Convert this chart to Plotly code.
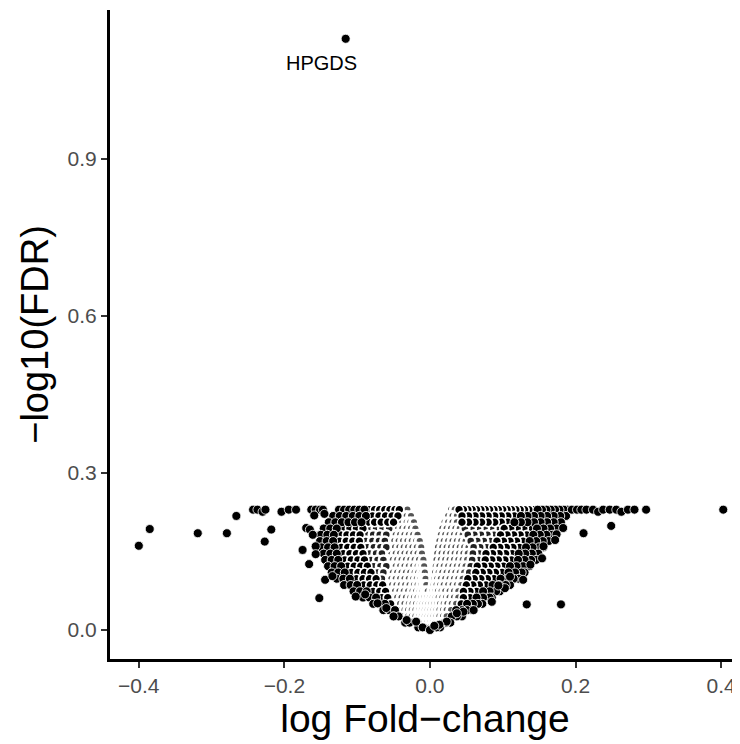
import plotly.graph_objects as go

# ---- data -------------------------------------------------------------
# -log10(FDR) levels (tied BH-adjusted values form horizontal bands)
fdr_levels = [0.230, 0.218, 0.206, 0.194, 0.182, 0.170, 0.158, 0.146, 0.134, 0.122,
              0.110, 0.098, 0.086, 0.074, 0.062, 0.050, 0.038, 0.026, 0.014, 0.005]

# outer (sparser, black looking) genes per level: log fold-change
edge_logfc_by_level = [
    [-0.125, -0.118, -0.111, -0.104, -0.097, -0.090, -0.083, -0.076, -0.069, -0.062, -0.055, -0.048, -0.042,
     0.040, 0.046, 0.052, 0.058, 0.064, 0.070, 0.076, 0.082, 0.088, 0.094, 0.100, 0.106, 0.112, 0.118, 0.124,
     0.130, 0.136, 0.142, 0.148, 0.154, 0.160, 0.166, 0.172, 0.178, 0.184, 0.189],
    [-0.133, -0.124, -0.115, -0.106, -0.097, -0.088, -0.079, -0.070, -0.061, -0.052, -0.044,
     0.044, 0.053, 0.062, 0.071, 0.080, 0.089, 0.098, 0.107, 0.116, 0.125, 0.134, 0.143, 0.152, 0.161, 0.170,
     0.179, 0.187],
    [-0.139, -0.130, -0.121, -0.112, -0.103, -0.094, -0.085, -0.076, -0.067, -0.058, -0.050,
     0.044, 0.053, 0.062, 0.071, 0.080, 0.089, 0.098, 0.107, 0.116, 0.125, 0.134, 0.143, 0.152, 0.161, 0.170,
     0.180],
    [-0.146, -0.137, -0.128, -0.119, -0.110, -0.101, -0.092, -0.083, -0.074, -0.065, -0.056,
     0.048, 0.057, 0.066, 0.075, 0.084, 0.093, 0.102, 0.111, 0.120, 0.129, 0.138, 0.147, 0.156, 0.165, 0.174],
    [-0.150, -0.141, -0.132, -0.123, -0.114, -0.105, -0.096, -0.087, -0.078, -0.069, -0.060,
     0.052, 0.061, 0.070, 0.079, 0.088, 0.097, 0.106, 0.115, 0.124, 0.133, 0.142, 0.151, 0.160, 0.168],
    [-0.151, -0.142, -0.133, -0.124, -0.115, -0.106, -0.097, -0.088, -0.079, -0.070, -0.062,
     0.056, 0.065, 0.074, 0.083, 0.092, 0.101, 0.110, 0.119, 0.128, 0.137, 0.146, 0.155, 0.163],
    [-0.149, -0.140, -0.131, -0.122, -0.113, -0.104, -0.095, -0.086, -0.077, -0.068, -0.060,
     0.060, 0.069, 0.078, 0.087, 0.096, 0.105, 0.114, 0.123, 0.132, 0.141, 0.150, 0.156],
    [-0.146, -0.137, -0.128, -0.119, -0.110, -0.101, -0.092, -0.083, -0.074, -0.066,
     0.059, 0.068, 0.077, 0.086, 0.095, 0.104, 0.113, 0.122, 0.131, 0.140, 0.149],
    [-0.144, -0.135, -0.126, -0.117, -0.108, -0.099, -0.090, -0.081, -0.072, -0.064,
     0.058, 0.067, 0.076, 0.085, 0.094, 0.103, 0.112, 0.121, 0.130, 0.139, 0.146],
    [-0.140, -0.131, -0.122, -0.113, -0.104, -0.095, -0.086, -0.077, -0.068, -0.060,
     0.056, 0.065, 0.074, 0.083, 0.092, 0.101, 0.110, 0.119, 0.128, 0.137],
    [-0.135, -0.126, -0.117, -0.108, -0.099, -0.090, -0.081, -0.072, -0.064,
     0.054, 0.063, 0.072, 0.081, 0.090, 0.099, 0.108, 0.117, 0.126, 0.130],
    [-0.128, -0.119, -0.110, -0.101, -0.092, -0.083, -0.074, -0.066,
     0.052, 0.061, 0.070, 0.079, 0.088, 0.097, 0.106, 0.115, 0.122],
    [-0.118, -0.109, -0.100, -0.091, -0.082, -0.073, -0.065,
     0.050, 0.059, 0.068, 0.077, 0.086, 0.095, 0.104, 0.110],
    [-0.105, -0.096, -0.087, -0.078, -0.069, -0.061,
     0.046, 0.055, 0.064, 0.073, 0.082, 0.091, 0.096],
    [-0.092, -0.083, -0.074, -0.066, -0.058,
     0.046, 0.055, 0.064, 0.073, 0.082, 0.085],
    [-0.078, -0.070, -0.062, -0.054,
     0.043, 0.051, 0.059, 0.066, 0.072],
    [-0.064, -0.056, -0.048,
     0.036, 0.044, 0.051, 0.058],
    [-0.050, -0.043,
     0.030, 0.037, 0.044],
    [-0.034, -0.028,
     0.022, 0.028],
    [-0.016, -0.010,
     0.009, 0.014],
]

# dense inner genes per level (heavily overplotted, look whitish)
core_logfc_by_level = [
    [-0.036, -0.031, 0.029, 0.034],
    [-0.038, -0.032, -0.026, 0.025, 0.031, 0.037],
    [-0.044, -0.038, -0.032, -0.027, -0.022, 0.020, 0.025, 0.031, 0.037],
    [-0.050, -0.044, -0.038, -0.032, -0.026, -0.020, 0.017, 0.023, 0.029, 0.035, 0.041],
    [-0.053, -0.047, -0.041, -0.035, -0.029, -0.023, -0.017, 0.015, 0.021, 0.027, 0.033, 0.039, 0.045],
    [-0.055, -0.049, -0.043, -0.037, -0.031, -0.025, -0.019, -0.014,
     0.013, 0.019, 0.025, 0.031, 0.037, 0.043, 0.049],
    [-0.054, -0.048, -0.042, -0.036, -0.030, -0.024, -0.018, -0.012,
     0.011, 0.017, 0.023, 0.029, 0.035, 0.041, 0.047, 0.053],
    [-0.059, -0.053, -0.047, -0.041, -0.035, -0.029, -0.023, -0.017, -0.011,
     0.010, 0.016, 0.022, 0.028, 0.034, 0.040, 0.046, 0.052],
    [-0.057, -0.051, -0.045, -0.039, -0.033, -0.027, -0.021, -0.015, -0.009,
     0.009, 0.015, 0.021, 0.027, 0.033, 0.039, 0.045, 0.051],
    [-0.053, -0.047, -0.041, -0.035, -0.029, -0.023, -0.017, -0.012, -0.008,
     0.008, 0.013, 0.019, 0.025, 0.031, 0.037, 0.043, 0.049],
    [-0.057, -0.051, -0.045, -0.039, -0.033, -0.027, -0.021, -0.016, -0.011, -0.007,
     0.007, 0.012, 0.017, 0.023, 0.029, 0.035, 0.041, 0.047],
    [-0.059, -0.053, -0.047, -0.041, -0.035, -0.029, -0.023, -0.018, -0.013, -0.009, -0.006,
     0.006, 0.010, 0.015, 0.021, 0.027, 0.033, 0.039, 0.045],
    [-0.058, -0.052, -0.046, -0.040, -0.034, -0.028, -0.022, -0.017, -0.012, -0.008, -0.005,
     0.005, 0.009, 0.014, 0.019, 0.025, 0.031, 0.037, 0.043],
    [-0.054, -0.048, -0.042, -0.036, -0.030, -0.024, -0.019, -0.014, -0.010, -0.006, -0.003,
     0.003, 0.007, 0.011, 0.016, 0.021, 0.027, 0.033, 0.039],
    [-0.051, -0.045, -0.039, -0.033, -0.027, -0.022, -0.017, -0.012, -0.008, -0.004, 0.000,
     0.004, 0.008, 0.012, 0.017, 0.022, 0.027, 0.033, 0.039],
    [-0.047, -0.041, -0.035, -0.029, -0.024, -0.019, -0.014, -0.010, -0.006, -0.002,
     0.002, 0.006, 0.010, 0.014, 0.019, 0.024, 0.030, 0.036],
    [-0.041, -0.035, -0.030, -0.025, -0.020, -0.015, -0.011, -0.007, -0.003,
     0.001, 0.005, 0.009, 0.013, 0.018, 0.023, 0.029],
    [-0.036, -0.030, -0.025, -0.020, -0.015, -0.011, -0.007, -0.003,
     0.001, 0.005, 0.009, 0.013, 0.018, 0.023],
    [-0.022, -0.017, -0.012, -0.008, -0.004, 0.000, 0.004, 0.008, 0.012, 0.016],
    [-0.005, 0.000, 0.005],
]

# isolated genes read individually
outlier_logfc = [-0.400, -0.385, -0.319, -0.279, -0.266, -0.243, -0.237, -0.230, -0.226, -0.218,
                 -0.227, -0.204, -0.194, -0.184, -0.163, -0.157, -0.151, -0.147, -0.159, -0.145,
                 -0.170, -0.165, -0.161, -0.175, -0.157, -0.157, -0.166, -0.144, -0.134, -0.152,
                 -0.102, -0.089, -0.072, -0.060, -0.050, -0.032, -0.019, 0.000,
                 0.183, 0.174, 0.172, 0.156, 0.154, 0.138, 0.133, 0.180, 0.103, 0.094,
                 0.085, 0.060, 0.046, 0.037, 0.023, 0.013, 0.006, 0.110, 0.128, 0.211, 0.249,
                 0.195, 0.202, 0.208, 0.215, 0.224, 0.231, 0.238, 0.247, 0.256, 0.263,
                 0.272, 0.281, 0.297, 0.403]
outlier_nlfdr = [0.161, 0.193, 0.185, 0.185, 0.218, 0.230, 0.230, 0.226, 0.230, 0.192,
                 0.169, 0.226, 0.230, 0.230, 0.230, 0.230, 0.230, 0.230, 0.219, 0.222,
                 0.195, 0.192, 0.182, 0.153, 0.160, 0.145, 0.126, 0.096, 0.103, 0.061,
                 0.064, 0.068, 0.051, 0.042, 0.026, 0.019, 0.016, 0.000,
                 0.195, 0.183, 0.172, 0.160, 0.137, 0.125, 0.049, 0.049, 0.080, 0.085,
                 0.054, 0.038, 0.035, 0.032, 0.016, 0.010, 0.008, 0.102, 0.096, 0.185, 0.199,
                 0.230, 0.230, 0.230, 0.230, 0.230, 0.226, 0.230, 0.230, 0.230, 0.226,
                 0.230, 0.230, 0.230, 0.230]

label_gene = "HPGDS"
label_logfc = -0.1158
label_nlfdr = 1.130

x_ticks = [-0.4, -0.2, 0.0, 0.2, 0.4]
x_ticktext = ["\u22120.4", "\u22120.2", "0.0", "0.2", "0.4"]
y_ticks = [0.0, 0.3, 0.6, 0.9]
y_ticktext = ["0.0", "0.3", "0.6", "0.9"]

# ---- build point tables -------------------------------------------------
# Overplotting shading: the outermost genes of each band sit in sparse
# territory (solid black); further in, neighbours' white rims overlap more.
outer_x, outer_y, mid_x, mid_y, inner_x, inner_y = [], [], [], [], [], []
for lvl, xs in zip(fdr_levels, edge_logfc_by_level):
    left = sorted([v for v in xs if v < 0])
    right = sorted([v for v in xs if v > 0], reverse=True)
    if lvl >= 0.2:
        n_out_l, n_out_r, n_mid_l, n_mid_r = 6, 8, 20, 30
    else:
        n_out_l, n_out_r, n_mid_l, n_mid_r = 3, 4, 4, 5
    for side, n_o, n_m in ((left, n_out_l, n_mid_l), (right, n_out_r, n_mid_r)):
        o, m, i = side[:n_o], side[n_o:n_o + n_m], side[n_o + n_m:]
        outer_x.extend(o); outer_y.extend([lvl] * len(o))
        mid_x.extend(m); mid_y.extend([lvl] * len(m))
        inner_x.extend(i); inner_y.extend([lvl] * len(i))
core_x, core_y = [], []
for lvl, xs in zip(fdr_levels, core_logfc_by_level):
    core_x.extend(xs)
    core_y.extend([lvl] * len(xs))

FONT = "Liberation Sans, Arial, Helvetica, sans-serif"


def pts(x, y, fill, ring, ring_w):
    return go.Scatter(x=x, y=y, mode="markers", hoverinfo="skip",
                      marker=dict(size=9, color=fill, line=dict(color=ring, width=ring_w)))


fig = go.Figure()
fig.add_trace(pts(core_x, core_y, "#555555", "white", 2.9))
fig.add_trace(pts(inner_x, inner_y, "#222222", "white", 2.5))
fig.add_trace(pts(mid_x, mid_y, "black", "white", 1.7))
fig.add_trace(pts(outer_x, outer_y, "black", "white", 0.9))
fig.add_trace(pts(outlier_logfc, outlier_nlfdr, "black", "white", 0.8))
fig.add_trace(pts([label_logfc], [label_nlfdr], "black", "white", 0.8))
fig.add_annotation(x=-0.149, y=1.084, text=label_gene, showarrow=False,
                   font=dict(family=FONT, size=20, color="black"))

# the page body adds an 8px offset, so the figure is 8px smaller than the window
fig.update_layout(
    width=732, height=736,
    margin=dict(l=102, r=0, t=1.5, b=85),
    paper_bgcolor="white", plot_bgcolor="white",
    showlegend=False,
    font=dict(family=FONT),
)
fig.update_xaxes(
    range=[-0.4396, 0.426], tickvals=x_ticks, ticktext=x_ticktext,
    showgrid=False, zeroline=False, automargin=False,
    showline=True, linecolor="black", linewidth=3,
    ticks="outside", ticklen=6, tickwidth=2, tickcolor="#333333",
    tickfont=dict(family=FONT, size=21, color="#4d4d4d"),
    title=dict(text="log Fold\u2212change", font=dict(family=FONT, size=39, color="black"), standoff=4),
)
fig.update_yaxes(
    range=[-0.0554, 1.185], tickvals=y_ticks, ticktext=y_ticktext,
    showgrid=False, zeroline=False, automargin=False,
    showline=True, linecolor="black", linewidth=3,
    ticks="outside", ticklen=6, tickwidth=2, tickcolor="#333333",
    tickfont=dict(family=FONT, size=21, color="#4d4d4d"),
    title=dict(text="\u2212log10(FDR)", font=dict(family=FONT, size=38, color="black"), standoff=8),
)

fig.write_html("out.html")
